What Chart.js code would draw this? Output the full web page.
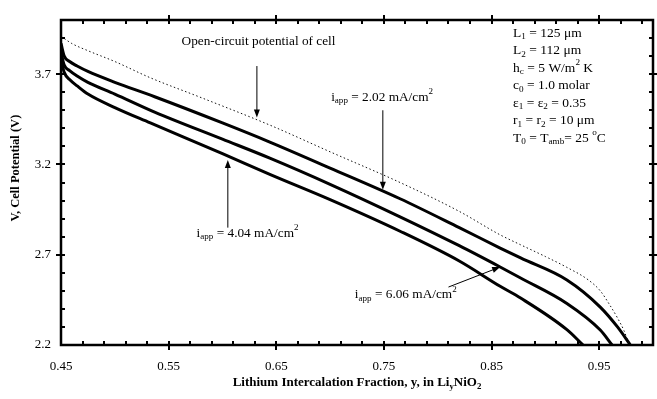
<!DOCTYPE html>
<html>
<head>
<meta charset="utf-8">
<script src="https://cdn.jsdelivr.net/npm/chart.js@4/dist/chart.umd.min.js"></script>
<style>
  html, body { margin: 0; padding: 0; background: #fff; }
  #chart { display: block; }
</style>
</head>
<body>
<canvas id="chart" width="657" height="399"></canvas>
<script>
// Discharge curves, cell potential vs lithium fraction y in LiyNiO2.
// Values.
const X_TICKS = [0.45, 0.55, 0.65, 0.75, 0.85, 0.95];
const Y_TICKS = [2.2, 2.7, 3.2, 3.7];

const OCP_Y = [0.45, 0.46, 0.475, 0.50, 0.533, 0.579, 0.644, 0.70, 0.765, 0.82, 0.858, 0.877, 0.90, 0.92, 0.94, 0.951, 0.96, 0.967, 0.973, 0.978];
const OCP_V = [3.91, 3.87, 3.83, 3.77, 3.68, 3.573, 3.418, 3.27, 3.10, 2.94, 2.81, 2.755, 2.69, 2.63, 2.56, 2.50, 2.42, 2.35, 2.28, 2.20];

const I202_Y = [0.45, 0.453, 0.458, 0.465, 0.475, 0.50, 0.537, 0.60, 0.644, 0.70, 0.765, 0.82, 0.858, 0.877, 0.92, 0.951, 0.967, 0.979];
const I202_V = [3.87, 3.80, 3.77, 3.745, 3.715, 3.655, 3.575, 3.43, 3.324, 3.18, 3.01, 2.85, 2.737, 2.682, 2.56, 2.41, 2.30, 2.20];

const I404_Y = [0.45, 0.453, 0.458, 0.465, 0.475, 0.50, 0.537, 0.60, 0.644, 0.70, 0.765, 0.82, 0.858, 0.877, 0.92, 0.951, 0.962];
const I404_V = [3.82, 3.75, 3.72, 3.69, 3.655, 3.59, 3.49, 3.34, 3.235, 3.09, 2.91, 2.75, 2.632, 2.571, 2.43, 2.283, 2.20];

const I606_Y = [0.45, 0.453, 0.458, 0.465, 0.475, 0.50, 0.533, 0.60, 0.644, 0.70, 0.765, 0.82, 0.858, 0.877, 0.92, 0.935];
const I606_V = [3.78, 3.71, 3.67, 3.635, 3.59, 3.515, 3.43, 3.26, 3.145, 3.005, 2.83, 2.665, 2.525, 2.46, 2.285, 2.20];

const SERIF = "'Liberation Serif', 'Times New Roman', serif";

// rich text parts: [text, mode] with mode "" | "sub" | "sup"
const iapp = (val) => [["i", ""], ["app", "sub"], [" = " + val + " mA/cm", ""], ["2", "sup"]];
const PARAM_LINES = [
  [["L", ""], ["1", "sub"], [" = 125 \u03bcm", ""]],
  [["L", ""], ["2", "sub"], [" = 112 \u03bcm", ""]],
  [["h", ""], ["c", "sub"], [" = 5 W/m", ""], ["2", "sup"], [" K", ""]],
  [["c", ""], ["0", "sub"], [" = 1.0 molar", ""]],
  [["\u03b5", ""], ["1", "sub"], [" = \u03b5", ""], ["2", "sub"], [" = 0.35", ""]],
  [["r", ""], ["1", "sub"], [" = r", ""], ["2", "sub"], [" = 10 \u03bcm", ""]],
  [["T", ""], ["0", "sub"], [" = T", ""], ["amb", "sub"], ["= 25 ", ""], ["o", "sup"], ["C", ""]],
];

// labels & arrows in data coordinates
const NOTES = [
  { parts: [["Open-circuit potential of cell", ""]], x: 0.562, y: 3.883,
    arrow: [0.632, 3.745, 0.632, 3.46] },
  { parts: iapp("2.02"), x: 0.701, y: 3.573, arrow: [0.749, 3.50, 0.749, 3.06] },
  { parts: iapp("4.04"), x: 0.576, y: 2.82, arrow: [0.605, 2.85, 0.605, 3.225] },
  { parts: iapp("6.06"), x: 0.723, y: 2.477, arrow: [0.81, 2.521, 0.858, 2.632] },
];

const toPoints = (xs, vs) => xs.map((x, i) => ({ x, y: vs[i] }));

function drawRich(ctx, x, y, parts, size, bold) {
  let cx = x;
  parts.forEach(([t, mode]) => {
    const s = mode ? size * 0.68 : size;
    const dy = mode === "sub" ? size * 0.3 : mode === "sup" ? -size * 0.38 : 0;
    ctx.font = (bold ? "bold " : "") + s + "px " + SERIF;
    ctx.fillText(t, cx, y + dy);
    cx += ctx.measureText(t).width;
  });
  return cx - x;
}

function richWidth(ctx, parts, size, bold) {
  let w = 0;
  parts.forEach(([t, mode]) => {
    ctx.font = (bold ? "bold " : "") + (mode ? size * 0.68 : size) + "px " + SERIF;
    w += ctx.measureText(t).width;
  });
  return w;
}

function arrow(ctx, x1, y1, x2, y2) {
  const a = Math.atan2(y2 - y1, x2 - x1);
  const len = 8, half = 3;
  ctx.beginPath();
  ctx.moveTo(x1, y1);
  ctx.lineTo(x2 - Math.cos(a) * len * 0.8, y2 - Math.sin(a) * len * 0.8);
  ctx.stroke();
  ctx.beginPath();
  ctx.moveTo(x2, y2);
  ctx.lineTo(x2 - Math.cos(a) * len - Math.sin(a) * half, y2 - Math.sin(a) * len + Math.cos(a) * half);
  ctx.lineTo(x2 - Math.cos(a) * len + Math.sin(a) * half, y2 - Math.sin(a) * len - Math.cos(a) * half);
  ctx.closePath();
  ctx.fill();
}

const decorPlugin = {
  id: "decor",
  afterDraw(chart) {
    const { ctx, chartArea: ca, scales: { x: xs, y: ys } } = chart;
    ctx.save();
    ctx.strokeStyle = "#000";
    ctx.fillStyle = "#000";

    // frame
    ctx.lineWidth = 2.5;
    ctx.strokeRect(ca.left, ca.top, ca.right - ca.left, ca.bottom - ca.top);

    // ticks: major cross the frame, minor point inward
    ctx.lineWidth = 2;
    ctx.beginPath();
    for (let i = 0; i <= 27; i++) {
      const v = 0.45 + i * 0.02;
      const px = Math.round(xs.getPixelForValue(v));
      const major = i % 5 === 0;
      if (px <= ca.left + 1 || px >= ca.right - 1) continue;
      const out = major ? 5 : 0, inn = 4;
      ctx.moveTo(px, ca.bottom + out); ctx.lineTo(px, ca.bottom - inn);
      ctx.moveTo(px, ca.top - out); ctx.lineTo(px, ca.top + inn);
    }
    for (let i = 0; i <= 18; i++) {
      const v = 2.2 + i * 0.1;
      const py = Math.round(ys.getPixelForValue(v));
      const major = i % 5 === 0;
      if (py <= ca.top + 1 || py >= ca.bottom - 1) continue;
      const out = major ? 5 : 0, inn = 4;
      ctx.moveTo(ca.left - out, py); ctx.lineTo(ca.left + inn, py);
      ctx.moveTo(ca.right + out, py); ctx.lineTo(ca.right - inn, py);
    }
    ctx.stroke();

    // annotations
    ctx.lineWidth = 1;
    ctx.textBaseline = "middle";
    ctx.textAlign = "left";
    NOTES.forEach((n) => {
      drawRich(ctx, xs.getPixelForValue(n.x), ys.getPixelForValue(n.y), n.parts, 13.3);
      const [ax1, ay1, ax2, ay2] = n.arrow;
      arrow(ctx, xs.getPixelForValue(ax1), ys.getPixelForValue(ay1),
        xs.getPixelForValue(ax2), ys.getPixelForValue(ay2));
    });

    // parameter block
    const px0 = xs.getPixelForValue(0.87);
    let py0 = ys.getPixelForValue(3.928);
    PARAM_LINES.forEach((parts) => {
      drawRich(ctx, px0, py0, parts, 13.5);
      py0 += 17.5;
    });

    // axis titles
    const xTitle = [["Lithium Intercalation Fraction, y, in Li", ""], ["y", "sub"], ["NiO", ""], ["2", "sub"]];
    const w = richWidth(ctx, xTitle, 13, true);
    drawRich(ctx, (ca.left + ca.right) / 2 - w / 2, 383, xTitle, 13, true);

    ctx.translate(16, ys.getPixelForValue(3.18));
    ctx.rotate(-Math.PI / 2);
    ctx.font = "bold 12.5px " + SERIF;
    ctx.textAlign = "center";
    ctx.fillText("V, Cell Potential (V)", 0, 0);
    ctx.restore();
  },
};

const tickFont = { family: SERIF, size: 13 };

new Chart(document.getElementById("chart"), {
  type: "line",
  data: {
    datasets: [
      { label: "Open-circuit", data: toPoints(OCP_Y, OCP_V), borderColor: "#111", borderWidth: 1, borderDash: [1.5, 2.5] },
      { label: "2.02 mA/cm2", data: toPoints(I202_Y, I202_V), borderColor: "#000", borderWidth: 3 },
      { label: "4.04 mA/cm2", data: toPoints(I404_Y, I404_V), borderColor: "#000", borderWidth: 3 },
      { label: "6.06 mA/cm2", data: toPoints(I606_Y, I606_V), borderColor: "#000", borderWidth: 3 },
    ],
  },
  options: {
    responsive: false,
    animation: false,
    layout: { padding: { top: 20, right: 4, left: 0, bottom: 0 } },
    elements: { point: { radius: 0 }, line: { cubicInterpolationMode: "monotone" } },
    plugins: { legend: { display: false }, tooltip: { enabled: false } },
    scales: {
      x: {
        type: "linear",
        min: 0.45,
        max: 1.0,
        afterBuildTicks: (s) => { s.ticks = X_TICKS.map((v) => ({ value: v })); },
        afterFit: (s) => { s.height = 54; },
        grid: { display: false, drawTicks: false },
        border: { display: false },
        ticks: { font: tickFont, color: "#000", padding: 14, maxRotation: 0, callback: (v) => v.toFixed(2) },
      },
      y: {
        min: 2.2,
        max: 4.0,
        afterBuildTicks: (s) => { s.ticks = Y_TICKS.map((v) => ({ value: v })); },
        afterFit: (s) => { s.width = 61; },
        grid: { display: false, drawTicks: false },
        border: { display: false },
        ticks: { font: tickFont, color: "#000", padding: 10, callback: (v) => v.toFixed(1) },
      },
    },
  },
  plugins: [decorPlugin],
});
</script>
</body>
</html>
